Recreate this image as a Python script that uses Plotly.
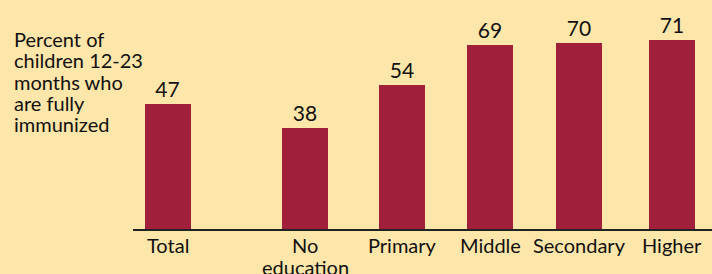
import plotly.graph_objects as go

categories = ["Total", "No<br>education", "Primary", "Middle", "Secondary", "Higher"]
values = [47, 38, 54, 69, 70, 71]
axis_title_lines = ["Percent of", "children 12-23", "months who", "are fully", "immunized"]

# layout: horizontal slot centers (in plot-area pixel units) and bar width
slot_centers = [34.5, 172, 269, 357, 446, 539]
bar_width = 46

BG = "#FDE6A9"
BAR = "#A0203C"
FONT = "Lato"
TXT = "#111111"

W, H = 712, 274
L, R, T, B = 133, 0, 10, 45
plot_w = W - L - R
plot_h = H - T - B
base_px = H - B  # pixel row of the baseline


def paper_y(py):
    return (base_px - py) / plot_h


fig = go.Figure()
fig.add_trace(go.Bar(
    x=slot_centers, y=values, width=bar_width,
    marker=dict(color=BAR, line=dict(width=0)),
    text=[str(v) for v in values], textposition="outside",
    textfont=dict(family=FONT, size=21, color=TXT),
    cliponaxis=False,
))

annotations = []
# left-hand descriptive label, one line per annotation (tight line spacing)
for i, line in enumerate(axis_title_lines):
    annotations.append(dict(
        text=line, xref="paper", yref="paper",
        x=(12 - L) / plot_w, y=paper_y(39 + 21.3 * i),
        xanchor="left", yanchor="middle", align="left", showarrow=False,
        font=dict(family=FONT, size=20, color=TXT),
    ))
# category labels under the axis
for xc, cat in zip(slot_centers, categories):
    for j, line in enumerate(cat.split("<br>")):
        annotations.append(dict(
            text=line, xref="x", yref="paper",
            x=xc, y=paper_y(245 + 21.7 * j),
            xanchor="center", yanchor="middle", showarrow=False,
            font=dict(family=FONT, size=20, color=TXT),
        ))

fig.update_layout(
    width=W, height=H,
    margin=dict(l=L, r=R, t=T, b=B, pad=0),
    paper_bgcolor=BG, plot_bgcolor=BG,
    showlegend=False,
    bargap=0,
    font=dict(family=FONT, size=20, color=TXT),
    xaxis=dict(
        range=[0, plot_w], showticklabels=False,
        showgrid=False, zeroline=False, showline=True, linecolor="#222", linewidth=1.5,
        ticks="", fixedrange=True,
    ),
    yaxis=dict(range=[0, plot_h / 2.66], visible=False, showgrid=False, fixedrange=True),
    annotations=annotations,
)

fig.write_html(
    "out.html",
    config={"displayModeBar": False, "staticPlot": True},
    post_script="document.body.style.margin='0';document.body.style.padding='0';document.body.style.overflow='hidden';",
)
